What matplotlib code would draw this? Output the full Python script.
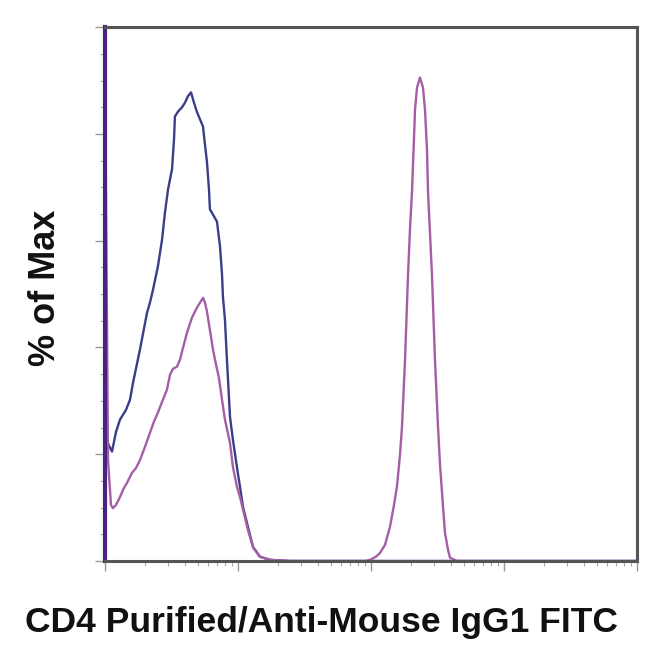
import numpy as np
import matplotlib.pyplot as plt
from matplotlib.ticker import MultipleLocator, LogLocator, NullFormatter

# log10(FITC intensity) and % of max
blue_log = [1.000, 1.008, 1.053, 1.083, 1.113, 1.158, 1.188, 1.211, 1.263, 1.316, 1.338,
            1.361, 1.398, 1.429, 1.451, 1.474, 1.504, 1.519, 1.526, 1.549, 1.579, 1.602,
            1.624, 1.647, 1.669, 1.692, 1.737, 1.752, 1.767, 1.782, 1.789, 1.812, 1.842,
            1.865, 1.880, 1.887, 1.902, 1.917, 1.940, 1.962, 1.992, 2.015, 2.038, 2.075,
            2.113, 2.165, 2.241, 2.391, 5.000]
blue_pct = [100, 22.7, 20.5, 24.2, 26.5, 28.3, 30.2, 33.4, 39.6, 46.5, 48.4,
            50.8, 55.2, 60.2, 65.3, 69.6, 73.4, 79.0, 83.3, 84.2, 85.0, 85.9,
            87.1, 87.8, 85.9, 84.1, 81.4, 78.0, 74.7, 69.6, 65.9, 64.9, 63.6,
            58.9, 53.7, 49.5, 45.2, 37.7, 27.0, 22.7, 17.6, 13.9, 10.1, 6.4,
            2.6, 0.8, 0.2, 0.0, 0.0]

purple_log = [1.000, 1.023, 1.045, 1.060, 1.083, 1.113, 1.143, 1.165, 1.203, 1.233, 1.263,
              1.301, 1.338, 1.368, 1.398, 1.429, 1.466, 1.489, 1.511, 1.541, 1.564, 1.579,
              1.617, 1.654, 1.692, 1.737, 1.752, 1.767, 1.789, 1.812, 1.835, 1.857, 1.880,
              1.902, 1.940, 1.962, 1.992, 2.015, 2.038, 2.075, 2.113, 2.165, 2.241, 2.391,
              2.955, 2.992, 3.038, 3.068, 3.105, 3.143, 3.173, 3.195, 3.218, 3.233, 3.256,
              3.278, 3.293, 3.308, 3.323, 3.331, 3.346, 3.368, 3.391, 3.406, 3.421, 3.429,
              3.444, 3.459, 3.481, 3.504, 3.519, 3.534, 3.556, 3.579, 3.594, 3.647, 5.000]
purple_pct = [94.0, 18.9, 10.5, 9.9, 10.5, 12.0, 13.7, 14.6, 16.5, 17.4, 18.9,
              21.4, 24.0, 26.1, 27.8, 29.8, 32.1, 34.9, 36.0, 36.4, 37.7, 39.2,
              42.8, 45.6, 47.5, 49.3, 48.4, 46.7, 43.3, 39.6, 36.8, 34.3, 30.2,
              26.5, 22.1, 17.6, 13.9, 12.0, 9.6, 5.8, 2.6, 0.8, 0.2, 0.0,
              0.0, 0.2, 0.8, 1.5, 3.0, 6.4, 10.5, 13.9, 19.9, 25.1, 37.7,
              53.3, 62.1, 69.0, 79.0, 84.6, 88.7, 90.6, 88.7, 84.6, 77.1, 69.0,
              61.2, 53.3, 37.7, 25.1, 18.0, 12.8, 5.3, 2.1, 0.6, 0.0, 0.0]

fig = plt.figure(figsize=(6.5, 6.5), dpi=100)
ax = fig.add_axes([0.1615, 0.137, 0.8185, 0.821])

ax.plot(10 ** np.array(blue_log), blue_pct, color='#3a3d88', linewidth=1.7)
ax.plot(10 ** np.array(purple_log), purple_pct, color='#a45ea6', linewidth=1.7)

ax.set_xscale('log')
ax.set_xlim(10, 1e5)
ax.set_ylim(0, 100)

ax.yaxis.set_major_locator(MultipleLocator(20))
ax.yaxis.set_minor_locator(MultipleLocator(5))
ax.xaxis.set_major_locator(LogLocator(base=10, numticks=10))
ax.xaxis.set_minor_locator(LogLocator(base=10, subs=np.arange(2, 10), numticks=50))
ax.xaxis.set_major_formatter(NullFormatter())
ax.xaxis.set_minor_formatter(NullFormatter())
ax.yaxis.set_major_formatter(NullFormatter())

ax.tick_params(which='major', length=7, width=1.0, color='#999999', direction='out')
ax.tick_params(which='minor', length=3.5, width=0.8, color='#aaaaaa', direction='out')

for side in ['top', 'right', 'bottom']:
    ax.spines[side].set_color('#555555')
    ax.spines[side].set_linewidth(2.2)
ax.spines['left'].set_color('#4a2380')
ax.spines['left'].set_linewidth(3)

fig.text(0.494, 0.043, 'CD4 Purified/Anti-Mouse IgG1 FITC', fontsize=25.5,
         fontweight='bold', family='Liberation Sans', color='#111111',
         ha='center', va='center')
fig.text(0.07, 0.557, '% of Max', fontsize=26, fontweight='bold',
         family='Liberation Sans', color='#111111', rotation=90,
         ha='center', va='center')

plt.savefig('out.png', dpi=100)
